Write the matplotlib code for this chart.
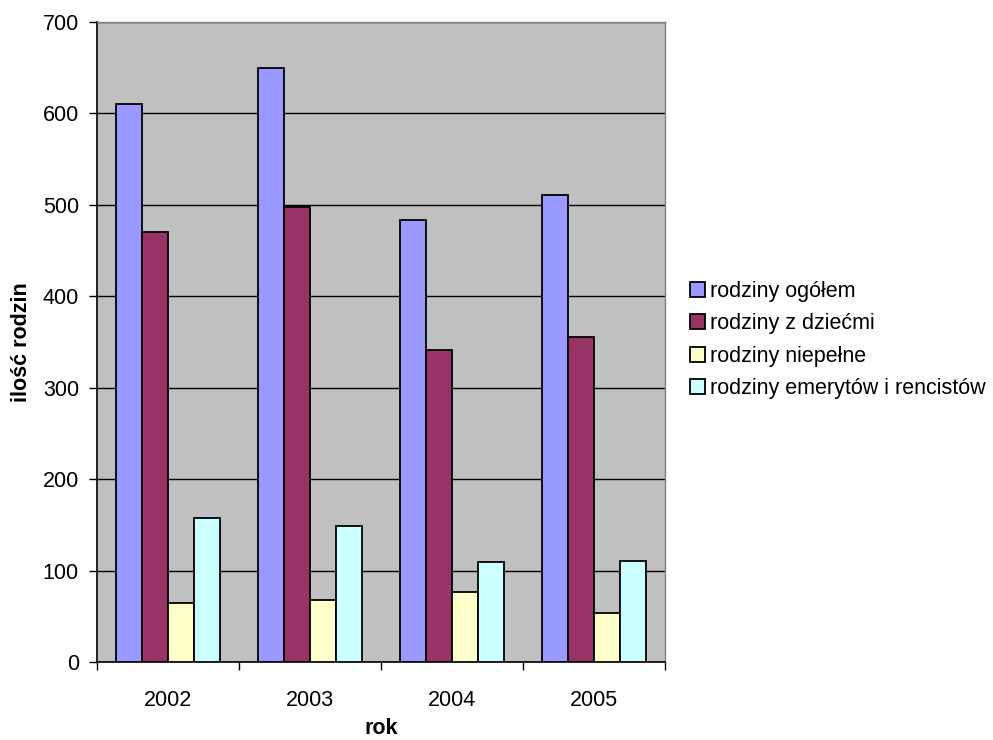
import numpy as np
import matplotlib.pyplot as plt

# =========================
# DATA
# =========================
years = ["2002", "2003", "2004", "2005"]
ogolem = [610, 650, 483, 511]
z_dziecmi = [470, 498, 341, 355]
niepelne = [65, 68, 77, 54]
emeryci = [157, 149, 109, 110]

series_names = ["rodziny ogółem", "rodziny z dziećmi",
                "rodziny niepełne", "rodziny emerytów i rencistów"]
colors = ["#9999FF", "#993366", "#FFFFCC", "#CCFFFF"]

plt.rcParams['font.family'] = ['Liberation Sans', 'DejaVu Sans']
FS = 15.5

fig = plt.figure(figsize=(9.93, 7.4), dpi=100)
ax = fig.add_axes([97 / 993, 78 / 740, 568 / 993, 640 / 740])
ax.set_facecolor("#C0C0C0")

x = np.arange(len(years))
width = 1 / 5.5
all_series = [ogolem, z_dziecmi, niepelne, emeryci]
bars = []
for i, vals in enumerate(all_series):
    offs = (i - 1.5) * width
    b = ax.bar(x + offs, vals, width, color=colors[i], edgecolor="black",
               linewidth=1.3, label=series_names[i], zorder=3)
    bars.append(b)

ax.set_xlim(-0.5, len(years) - 0.5)
ax.set_ylim(0, 700)
ax.set_yticks(np.arange(0, 701, 100))
ax.yaxis.grid(True, color="black", linewidth=1.0, zorder=1)

# category ticks on boundaries, labels centred
ax.set_xticks(np.arange(-0.5, len(years)), minor=False)
ax.set_xticklabels([])
ax.set_xticks(x, minor=True)
ax.set_xticklabels(years, minor=True)
ax.tick_params(axis="x", which="major", length=6, width=1, direction="out")
ax.tick_params(axis="x", which="minor", length=0, pad=20, labelsize=FS)
ax.tick_params(axis="y", length=6, width=1, direction="out", pad=7, labelsize=FS)

for s in ["left", "bottom"]:
    ax.spines[s].set_color("black")
    ax.spines[s].set_linewidth(1.2)
for s in ["top", "right"]:
    ax.spines[s].set_color("#808080")
    ax.spines[s].set_linewidth(1.0)

ax.set_ylabel("ilość rodzin", fontsize=FS, fontweight="bold", labelpad=8)
ax.set_xlabel("rok", fontsize=FS, fontweight="bold", labelpad=5)

leg = fig.legend(handles=bars, labels=series_names, loc="center left",
                 bbox_to_anchor=(690 / 993, 1 - 340 / 740), frameon=False,
                 fontsize=FS, handlelength=0.7, handleheight=0.7,
                 handletextpad=0.25, labelspacing=0.53,
                 borderpad=0, borderaxespad=0)

plt.savefig("out.png", dpi=100)
